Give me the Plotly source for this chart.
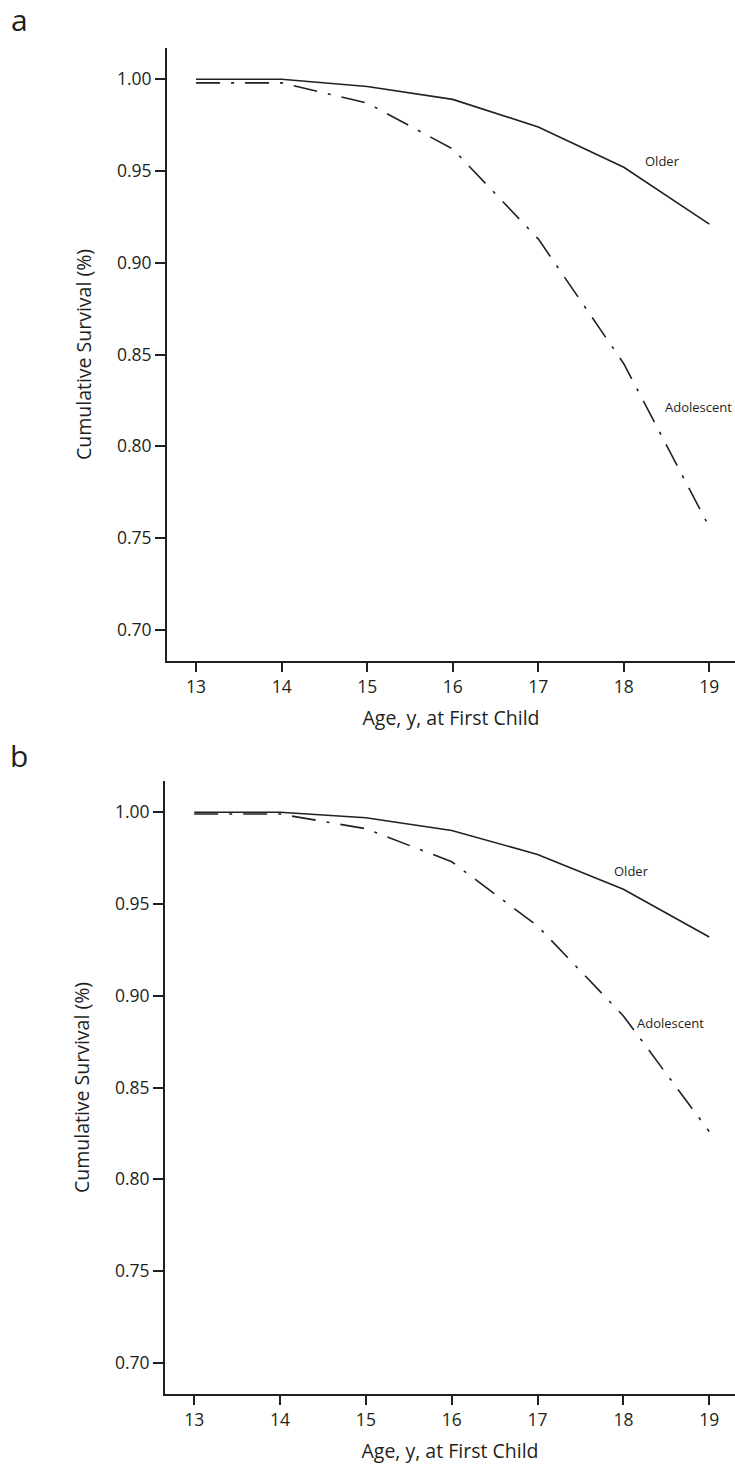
import plotly.graph_objects as go

ages = [13, 14, 15, 16, 17, 18, 19]

older_a = [1.000, 1.000, 0.996, 0.989, 0.974, 0.952, 0.921]
adolescent_a = [0.998, 0.998, 0.987, 0.962, 0.913, 0.845, 0.756]

older_b = [1.000, 1.000, 0.997, 0.990, 0.977, 0.958, 0.932]
adolescent_b = [0.999, 0.999, 0.991, 0.973, 0.938, 0.889, 0.826]

y_ticks = [0.70, 0.75, 0.80, 0.85, 0.90, 0.95, 1.00]
y_ticklabels = ["0.70", "0.75", "0.80", "0.85", "0.90", "0.95", "1.00"]

INK = "#231f20"
FONT = "Open Sans"
W, H = 735, 1465

fig = go.Figure()

dashdot = "24px,11px,3px,11px"

fig.add_trace(go.Scatter(x=ages, y=older_a, mode="lines", line=dict(color=INK, width=1.6),
                         xaxis="x", yaxis="y", showlegend=False, hoverinfo="skip"))
fig.add_trace(go.Scatter(x=ages, y=adolescent_a, mode="lines", line=dict(color=INK, width=1.6, dash=dashdot),
                         xaxis="x", yaxis="y", showlegend=False, hoverinfo="skip"))
fig.add_trace(go.Scatter(x=ages, y=older_b, mode="lines", line=dict(color=INK, width=1.6),
                         xaxis="x2", yaxis="y2", showlegend=False, hoverinfo="skip"))
fig.add_trace(go.Scatter(x=ages, y=adolescent_b, mode="lines", line=dict(color=INK, width=1.6, dash=dashdot),
                         xaxis="x2", yaxis="y2", showlegend=False, hoverinfo="skip"))

def px_x(p):
    return p / W

def px_y(p):
    return 1 - p / H

xcommon = dict(range=[12.66, 19.30], tickvals=ages, ticktext=[str(a) for a in ages],
               showline=True, linecolor=INK, linewidth=2, ticks="outside", ticklen=9, tickwidth=2,
               tickcolor=INK, showgrid=False, zeroline=False,
               tickfont=dict(family=FONT, size=17.5, color=INK),
               title=dict(text="Age, y, at First Child", font=dict(family=FONT, size=19.5, color=INK), standoff=14))
ycommon = dict(range=[0.683, 1.017], tickvals=y_ticks, ticktext=y_ticklabels,
               showline=True, linecolor=INK, linewidth=2, ticks="outside", ticklen=10, tickwidth=2,
               tickcolor=INK, showgrid=False, zeroline=False,
               tickfont=dict(family=FONT, size=17.5, color=INK),
               title=dict(text="Cumulative Survival (%)", font=dict(family=FONT, size=19.5, color=INK), standoff=20))

a_top, a_bot = 48, 661
b_top, b_bot = 781, 1394

lbl = dict(family=FONT, size=13, color=INK)

fig.update_layout(
    width=W, height=H,
    margin=dict(l=0, r=0, t=0, b=0),
    paper_bgcolor="white", plot_bgcolor="white",
    xaxis=dict(domain=[px_x(167), 1.0], anchor="y", **xcommon),
    yaxis=dict(domain=[px_y(a_bot), px_y(a_top)], anchor="x", **ycommon),
    xaxis2=dict(domain=[px_x(165), 1.0], anchor="y2", **xcommon),
    yaxis2=dict(domain=[px_y(b_bot), px_y(b_top)], anchor="x2", **ycommon),
    annotations=[
        dict(text="a", x=px_x(19), y=px_y(20), xref="paper", yref="paper", showarrow=False,
             font=dict(family=FONT, size=30, color=INK), xanchor="center", yanchor="middle"),
        dict(text="b", x=px_x(19), y=px_y(755), xref="paper", yref="paper", showarrow=False,
             font=dict(family=FONT, size=30, color=INK), xanchor="center", yanchor="middle"),
        dict(text="Older", x=18.45, y=0.9555, xref="x", yref="y", showarrow=False,
             font=lbl, xanchor="center", yanchor="middle"),
        dict(text="Adolescent", x=18.46, y=0.8215, xref="x", yref="y", showarrow=False,
             font=lbl, xanchor="left", yanchor="middle"),
        dict(text="Older", x=18.1, y=0.968, xref="x2", yref="y2", showarrow=False,
             font=lbl, xanchor="center", yanchor="middle"),
        dict(text="Adolescent", x=18.55, y=0.885, xref="x2", yref="y2", showarrow=False,
             font=lbl, xanchor="center", yanchor="middle"),
    ],
)

fig.write_html("out.html", config={"displayModeBar": False, "staticPlot": True},
               post_script="document.body.style.margin='0';document.body.style.padding='0';")
